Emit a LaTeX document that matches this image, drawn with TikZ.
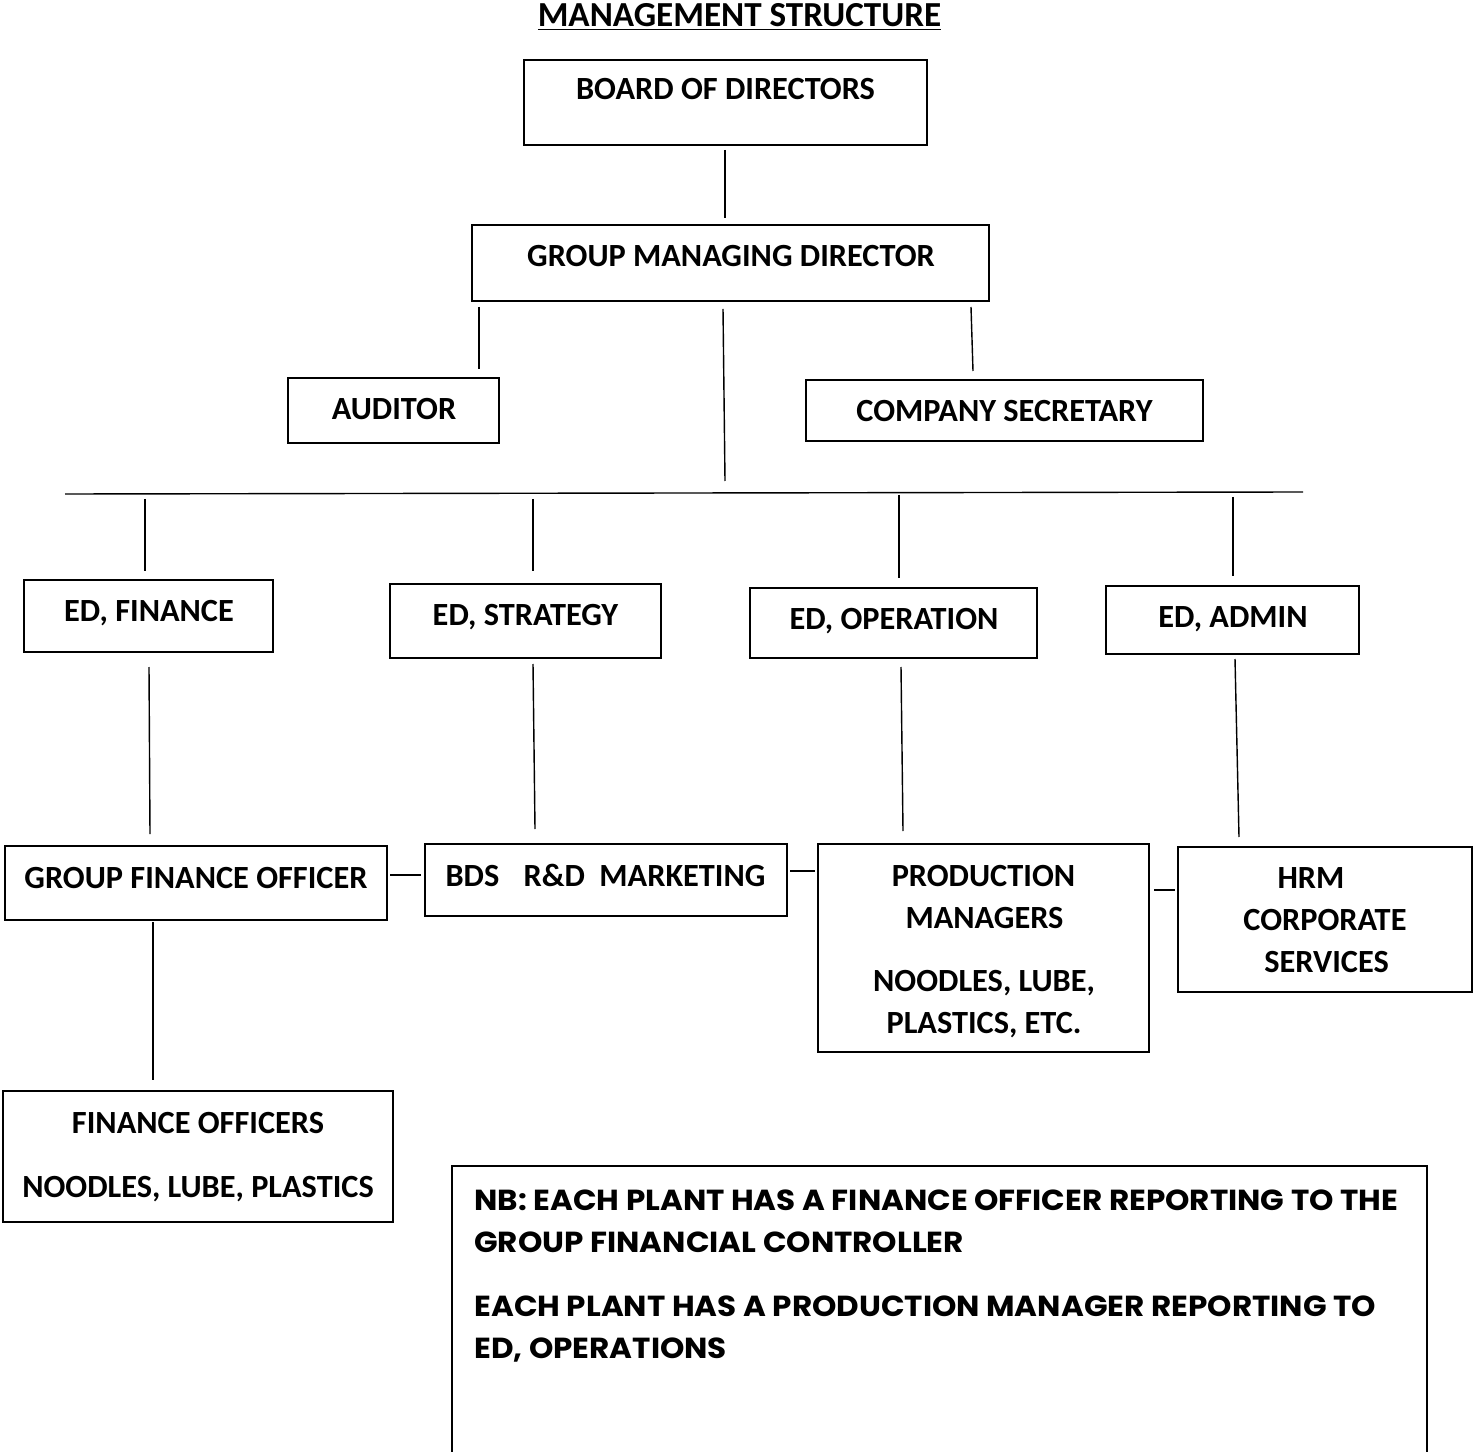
\documentclass[tikz,border=0pt]{standalone}
\usepackage{fontspec}
\setmainfont{Carlito}
\newfontfamily\nbfont[FakeStretch=1.07]{Poppins}
\begin{document}
\begin{tikzpicture}[x=0.02cm,y=-0.02cm,
  bx/.style 2 args={draw,line width=1.1pt,inner sep=0,minimum width=#1*0.02cm,minimum height=#2*0.02cm},
  tx/.style={inner sep=0,anchor=base,font=\fontsize{18.4}{22}\selectfont\bfseries},
  nb/.style={inner sep=0,anchor=base west,font=\nbfont\fontsize{16.5}{20}\selectfont\bfseries},
  ln/.style={line width=0.8pt}]
\useasboundingbox (0,0) rectangle (1473,1452);
% title
\node[tx,font=\fontsize{20}{24}\selectfont\bfseries] (title) at (739.5,27) {\underline{MANAGEMENT STRUCTURE}};
% boxes
\node[bx={403}{85}] (board) at (725.5,102.5) {};
\node[tx] (boardt) at (725.5,100) {BOARD OF DIRECTORS};
\node[bx={517}{76}] (gmd) at (730.5,263) {};
\node[tx] (gmdt) at (731,267) {GROUP MANAGING DIRECTOR};
\node[bx={211}{65}] (aud) at (393.5,410.5) {};
\node[tx] (audt) at (394,420) {AUDITOR};
\node[bx={397}{61}] (sec) at (1004.5,410.5) {};
\node[tx] (sect) at (1004.5,422) {COMPANY SECRETARY};
\node[bx={249}{72}] (edf) at (148.5,616) {};
\node[tx] (edft) at (149,621) {ED, FINANCE};
\node[bx={271}{74}] (eds) at (525.5,621) {};
\node[tx] (edst) at (525.5,625) {ED, STRATEGY};
\node[bx={287}{70}] (edo) at (893.5,623) {};
\node[tx] (edot) at (894,629) {ED, OPERATION};
\node[bx={253}{68}] (eda) at (1232.5,620) {};
\node[tx] (edat) at (1233,627) {ED, ADMIN};
\node[bx={382}{74}] (gfo) at (196,883) {};
\node[tx] (gfot) at (196,888) {GROUP FINANCE OFFICER};
\node[bx={362}{72}] (bds) at (606,880) {};
\node[tx] (bdst) at (605.5,886) {BDS\hspace{0.75em}R\&D\hspace{0.45em}MARKETING};
\node[bx={331}{208}] (prod) at (983.5,948) {};
\node[tx] (prod1) at (983.5,886) {PRODUCTION};
\node[tx] (prod2) at (984.5,928) {MANAGERS};
\node[tx] (prod3) at (984,991) {NOODLES, LUBE,};
\node[tx] (prod4) at (984,1033) {PLASTICS, ETC.};
\node[bx={294}{145}] (hrm) at (1325,919.5) {};
\node[tx] (hrm1) at (1311,888) {HRM};
\node[tx] (hrm2) at (1325,930) {CORPORATE};
\node[tx] (hrm3) at (1326.5,972) {SERVICES};
\node[bx={390}{131}] (fo) at (198,1156.5) {};
\node[tx] (fo1) at (198,1133) {FINANCE OFFICERS};
\node[tx] (fo2) at (198,1197) {NOODLES, LUBE, PLASTICS};
\node[bx={975}{300}] (nbbox) at (939.5,1316) {};
\node[nb] (nb1) at (474,1210) {NB: EACH PLANT HAS A FINANCE OFFICER REPORTING TO THE};
\node[nb] (nb2) at (474,1252) {GROUP FINANCIAL CONTROLLER};
\node[nb] (nb3) at (474,1316) {EACH PLANT HAS A PRODUCTION MANAGER REPORTING TO};
\node[nb] (nb4) at (474,1358) {ED, OPERATIONS};
% connector end points
\coordinate (c1a) at (725,150); \coordinate (c1b) at (725,218);
\coordinate (c2a) at (479,307); \coordinate (c2b) at (479,369);
\coordinate (c3a) at (723,309); \coordinate (c3b) at (725,481);
\coordinate (c4a) at (971,307); \coordinate (c4b) at (973,371);
\coordinate (hl) at (65,494); \coordinate (hr) at (1303,492);
\coordinate (d1a) at (145,499); \coordinate (d1b) at (145,571);
\coordinate (d2a) at (533,499); \coordinate (d2b) at (533,571);
\coordinate (d3a) at (899,495); \coordinate (d3b) at (899,578);
\coordinate (d4a) at (1233,497); \coordinate (d4b) at (1233,576);
\coordinate (e1a) at (149,667); \coordinate (e1b) at (150,834);
\coordinate (e2a) at (533,664); \coordinate (e2b) at (535,829);
\coordinate (e3a) at (901,667); \coordinate (e3b) at (903,831);
\coordinate (e4a) at (1235,659); \coordinate (e4b) at (1239,837);
\coordinate (h1a) at (390,875); \coordinate (h1b) at (421,875);
\coordinate (h2a) at (790,871); \coordinate (h2b) at (815,871);
\coordinate (h3a) at (1154,890); \coordinate (h3b) at (1175,890);
\coordinate (g1a) at (153,922); \coordinate (g1b) at (153,1080);
\draw[ln] (c1a) -- (c1b);
\draw[ln] (c2a) -- (c2b);
\draw[ln] (c3a) -- (c3b);
\draw[ln] (c4a) -- (c4b);
\draw[ln] (hl) -- (hr);
\draw[ln] (d1a) -- (d1b);
\draw[ln] (d2a) -- (d2b);
\draw[ln] (d3a) -- (d3b);
\draw[ln] (d4a) -- (d4b);
\draw[ln] (e1a) -- (e1b);
\draw[ln] (e2a) -- (e2b);
\draw[ln] (e3a) -- (e3b);
\draw[ln] (e4a) -- (e4b);
\draw[ln] (h1a) -- (h1b);
\draw[ln] (h2a) -- (h2b);
\draw[ln] (h3a) -- (h3b);
\draw[ln] (g1a) -- (g1b);
\end{tikzpicture}
\end{document}
